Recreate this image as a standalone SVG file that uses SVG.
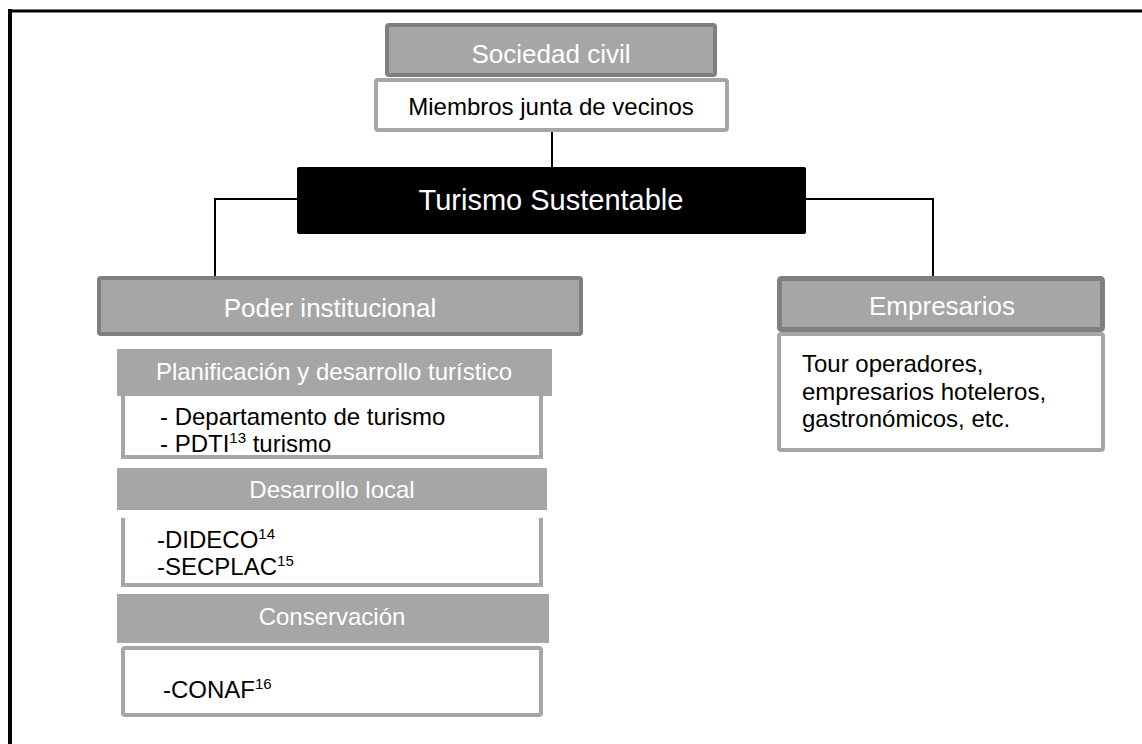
<svg xmlns="http://www.w3.org/2000/svg" width="1142" height="744" viewBox="0 0 1142 744">
<style>
text{font-family:"Liberation Sans",Arial,sans-serif}
.hdr{fill:#a6a6a6;stroke:#7f7f7f;stroke-width:4}
.sub{fill:#a6a6a6}
.body{fill:#fff;stroke:#a6a6a6;stroke-width:4}
.bside{fill:none;stroke:#a6a6a6;stroke-width:4}
.wt{fill:#fff;text-anchor:middle}
.bt{fill:#000;font-size:24px}
.conn{fill:none;stroke:#000;stroke-width:2}
.sup{font-size:15px}
</style>
<g id="frame">
<line x1="8" y1="11" x2="1142" y2="11" stroke="#000" stroke-width="3"/>
<line x1="10" y1="9" x2="10" y2="744" stroke="#000" stroke-width="4"/>
</g>
<g id="connectors">
<line class="conn" x1="552" y1="132" x2="552" y2="168"/>
<polyline class="conn" points="298,199 215,199 215,278"/>
<polyline class="conn" points="805,199 933,199 933,278"/>
</g>
<g id="sociedad">
<rect class="hdr" x="387" y="25" width="328" height="50" rx="2"/>
<text class="wt" x="551" y="63" font-size="26">Sociedad civil</text>
<rect class="body" x="376" y="80" width="351" height="50" rx="2"/>
<text class="bt" x="551" y="115" text-anchor="middle">Miembros junta de vecinos</text>
</g>
<g id="turismo">
<rect x="297" y="167" width="509" height="67" rx="2" fill="#000"/>
<text class="wt" x="551" y="210" font-size="29">Turismo Sustentable</text>
</g>
<g id="poder">
<rect class="hdr" x="99" y="278" width="482" height="56" rx="2"/>
<text class="wt" x="330" y="317" font-size="26">Poder institucional</text>
</g>
<g id="planificacion">
<rect class="sub" x="117" y="349" width="435" height="47"/>
<text class="wt" x="334" y="380" font-size="24">Planificación y desarrollo turístico</text>
<path class="bside" d="M123,396 V457 H541 V396" fill="#fff"/>
<rect x="125" y="396" width="414" height="59" fill="#fff"/>
<text class="bt" x="160" y="425">- Departamento de turismo</text>
<text class="bt" x="160" y="452">- PDTI<tspan class="sup" dy="-9">13</tspan><tspan dy="9"> turismo</tspan></text>
</g>
<g id="desarrollo">
<rect class="sub" x="117" y="468" width="430" height="42"/>
<text class="wt" x="332" y="498" font-size="24">Desarrollo local</text>
<path class="bside" d="M123,518 V585 H541 V518"/>
<text class="bt" x="157" y="548">-DIDECO<tspan class="sup" dy="-9">14</tspan></text>
<text class="bt" x="157" y="575">-SECPLAC<tspan class="sup" dy="-9">15</tspan></text>
</g>
<g id="conservacion">
<rect class="sub" x="117" y="594" width="432" height="49"/>
<text class="wt" x="332" y="625" font-size="24">Conservación</text>
<rect class="body" x="123" y="648" width="418" height="67" rx="2"/>
<text class="bt" x="163" y="698">-CONAF<tspan class="sup" dy="-9">16</tspan></text>
</g>
<g id="empresarios">
<rect class="body" x="779" y="334" width="324" height="116" rx="2"/>
<rect x="779.5" y="278.5" width="323" height="51" rx="2" fill="#a6a6a6" stroke="#7f7f7f" stroke-width="5"/>
<text class="wt" x="942" y="315" font-size="26">Empresarios</text>
<text class="bt" x="802" y="372">Tour operadores,</text>
<text class="bt" x="802" y="400">empresarios hoteleros,</text>
<text class="bt" x="802" y="427">gastronómicos, etc.</text>
</g>
</svg>
